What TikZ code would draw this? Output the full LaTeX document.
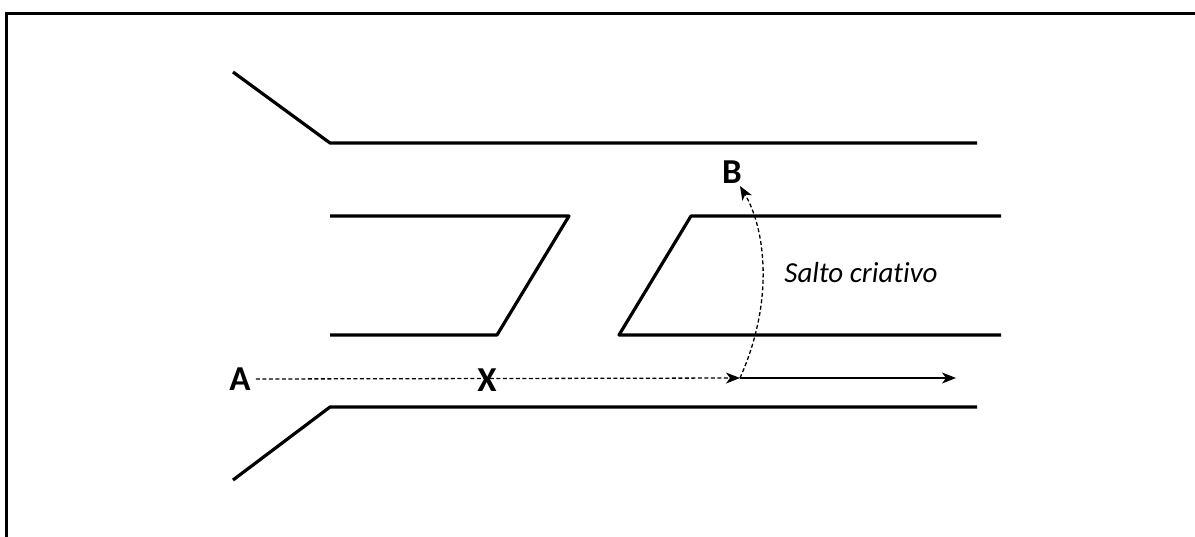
\documentclass[tikz,border=0pt]{standalone}
\usepackage{fontspec}
\setmainfont{Carlito}[Ligatures={NoCommon,NoRare}]
\usetikzlibrary{arrows.meta}
\tikzset{
  road/.style={line width=3.2pt, line join=round},
  frameline/.style={line width=3pt},
  dashconn/.style={line width=1.3pt, dash pattern=on 4pt off 2.5pt},
  solidconn/.style={line width=1.2pt},
  lettr/.style={font=\fontsize{35}{40}\selectfont\bfseries, inner sep=0pt},
  note/.style={font=\fontsize{29}{34}\selectfont\itshape, inner sep=0pt},
  tip/.style={-{Stealth[length=14pt,width=11pt,inset=4pt]}}
}
\begin{document}
\begin{tikzpicture}[x=1pt,y=-1pt]
\useasboundingbox (0,0) rectangle (1195,536);
\clip (0,0) rectangle (1195,536);
\fill[white] (0,0) rectangle (1195,536);
% frame
\draw[frameline] (6.5,13) rectangle (1210,560);
% road pieces
\draw[road] (233,72) -- (330,143) -- (977,143);
\draw[road] (330,216) -- (569,216) -- (497,335) -- (330,335);
\draw[road] (1001,216) -- (691,216) -- (619,335) -- (1001,335);
\draw[road] (233,480) -- (330,407) -- (977,407);
% labels
\node[lettr] (A) at (240,379) {A};
\node[lettr] (X) at (487,380) {X};
\node[lettr] (B) at (732,172) {B};
\node[note] (S) at (861,273) {Salto criativo};
\coordinate (J) at (740,378);
\coordinate (E) at (956,378);
\coordinate (T) at (740,186);
% connectors
\draw[dashconn,tip] (A.east) ++(5,0) -- (J);
\draw[solidconn,tip] (J) -- (E);
\draw[dashconn,tip] (J) .. controls (775,300) and (765,228) .. (T);
\end{tikzpicture}
\end{document}
